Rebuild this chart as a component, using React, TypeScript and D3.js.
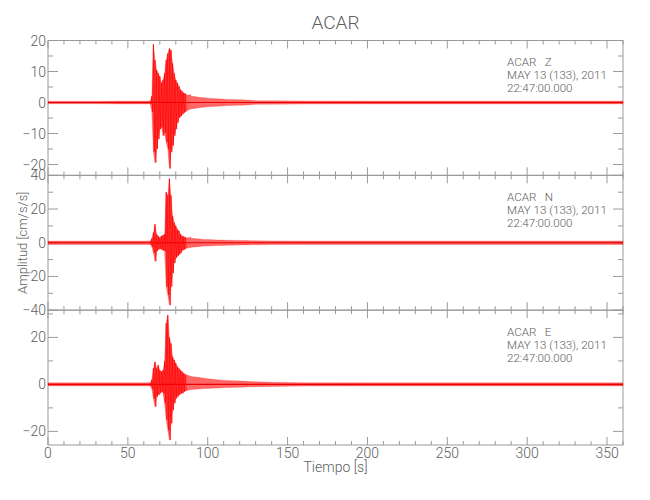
import React from 'react';
import * as d3 from 'd3';

// ---------- data ----------
const chartTitle = 'ACAR';
const station = 'ACAR';
const dateLabel = 'MAY 13 (133), 2011';
const timeLabel = '22:47:00.000';
const componentNames = ['Z', 'N', 'E'];
const xLabel = 'Tiempo [s]';
const yLabel = 'Amplitud [cm/s/s]';

const xDomain = [0, 360];
const xMajorTicks = [0, 50, 100, 150, 200, 250, 300, 350];
const xMinorStep = 10;

// sample times (s) of the min/max envelope
const times = [0, 15, 30, 45, 60, 64, 65, 66, 67, 68, 69, 70, 71, 72, 73, 74, 75, 76, 77, 78, 79, 80, 81, 82, 83, 84, 85, 86, 87, 88, 89, 90, 92, 94, 96, 98, 100, 103, 106, 109, 112, 115, 118, 121, 124, 127, 130, 140, 160, 200, 250, 300, 360];

const zMax = [0.4, 0.4, 0.4, 0.45, 0.45, 0.5, 2, 18.8, 13.7, 10.5, 9.4, 8.4, 6.3, 7.3, 9.4, 13.7, 15.8, 17.4, 16.9, 12.6, 9.4, 7.3, 6.3, 5.2, 4.1, 3.6, 3.1, 2.8, 2.5, 2.3, 2.6, 2.0, 1.9, 1.7, 1.6, 1.5, 1.4, 1.3, 1.2, 1.1, 1.0, 1.0, 0.9, 0.9, 0.8, 0.7, 0.6, 0.55, 0.5, 0.45, 0.45, 0.45, 0.45];
const zMin = [-0.4, -0.4, -0.4, -0.45, -0.45, -0.5, -3, -16, -19.4, -15, -11.8, -8.6, -8, -10.7, -9.7, -12.8, -15, -21.3, -16, -13.9, -10.7, -8.6, -6.5, -4.9, -4.4, -3.8, -3.3, -3.0, -2.6, -2.4, -2.2, -2.0, -1.9, -1.7, -1.6, -1.5, -1.4, -1.3, -1.2, -1.1, -1.0, -1.0, -0.9, -0.9, -0.8, -0.7, -0.6, -0.55, -0.5, -0.45, -0.45, -0.45, -0.45];

const nMax = [1.0, 1.0, 1.0, 1.0, 1.0, 1.1, 2.5, 6, 11, 5, 4, 3, 4, 4.5, 5, 30, 28, 38, 28, 16, 12, 10, 8, 7, 5, 4, 3.6, 3.2, 3, 3, 3.4, 2.6, 2.5, 2.3, 2.1, 2.0, 1.9, 1.8, 1.7, 1.6, 1.5, 1.5, 1.4, 1.3, 1.3, 1.2, 1.2, 1.1, 1.0, 1.0, 1.0, 1.0, 1.0];
const nMin = [-1.0, -1.0, -1.0, -1.0, -1.0, -1.1, -2.5, -6, -11, -5, -4, -3.5, -4, -4.5, -5, -26, -31, -37, -26, -18, -12, -9, -8, -7, -6, -4.5, -4, -3.5, -3.2, -3, -3, -2.6, -2.5, -2.3, -2.1, -2.0, -1.9, -1.8, -1.7, -1.6, -1.5, -1.5, -1.4, -1.3, -1.3, -1.2, -1.2, -1.1, -1.0, -1.0, -1.0, -1.0, -1.0];

const eMax = [0.65, 0.65, 0.65, 0.65, 0.65, 0.7, 2, 6.8, 9.6, 6.8, 8.2, 6, 5.4, 6, 10, 26, 29.5, 20, 17.4, 11.8, 10.4, 9, 7.5, 6.8, 6, 5.4, 4.7, 4.2, 4, 3.8, 3.6, 3.4, 3.2, 3.0, 2.8, 2.6, 2.4, 2.2, 2.0, 1.8, 1.7, 1.6, 1.5, 1.4, 1.3, 1.2, 1.1, 0.9, 0.7, 0.65, 0.65, 0.65, 0.65];
const eMin = [-0.65, -0.65, -0.65, -0.65, -0.65, -0.7, -2, -6, -9.5, -5.2, -4.5, -3.8, -3.1, -3.8, -8, -15, -19.4, -23.7, -16.6, -11, -8, -6, -5.2, -4.5, -3.8, -3.8, -3.1, -2.8, -2.6, -2.4, -2.3, -2.2, -2.1, -2.0, -1.9, -1.8, -1.7, -1.6, -1.5, -1.4, -1.3, -1.3, -1.2, -1.2, -1.1, -1.0, -1.0, -0.85, -0.7, -0.65, -0.65, -0.65, -0.65];

const zDomain = [-23.5, 20];
const nDomain = [-40, 40];
const eDomain = [-25.8, 31.6];
const zTicks = [20, 10, 0, -10, -20];
const nTicks = [40, 20, 0, -20, -40];
const eTicks = [20, 0, -20];
const zMinorStep = 5;
const nMinorStep = 10;
const eMinorStep = 10;

// ---------- layout ----------
const W = 650;
const H = 500;
const left = 48;
const right = 623;
const plotTop = 40.5;
const plotBottom = 445;
const axisColor = '#9a9a9a';
const textColor = '#5e5e5e';
const font = 'Roboto, "DejaVu Sans Condensed", sans-serif';
const fontWeight = 300;
const traceColor = '#ff0000';

const panels = [
  { name: componentNames[0], max: zMax, min: zMin, domain: zDomain, ticks: zTicks, minor: zMinorStep },
  { name: componentNames[1], max: nMax, min: nMin, domain: nDomain, ticks: nTicks, minor: nMinorStep },
  { name: componentNames[2], max: eMax, min: eMin, domain: eDomain, ticks: eTicks, minor: eMinorStep },
];

const fmt = (v: number) => (v < 0 ? '\u2212' + Math.abs(v) : String(v));

export default function App() {
  const x = d3.scaleLinear().domain(xDomain).range([left, right]);
  const ph = (plotBottom - plotTop) / panels.length;
  const xMinor = d3.range(xDomain[0], xDomain[1] + 0.001, xMinorStep).filter((t) => !xMajorTicks.includes(t));

  const txt = { fontFamily: font, fontWeight: fontWeight, fill: textColor } as const;

  return (
    <svg width={W} height={H} style={{ position: 'absolute', left: 0, top: 0, background: '#fff' }}>
      <rect x={0} y={0} width={W} height={H} fill="#ffffff" />
      <text x={(left + right) / 2} y={29} textAnchor="middle" fontSize={19} {...txt}>
        {chartTitle}
      </text>
      {panels.map((p, pi) => {
        const top = plotTop + pi * ph;
        const bottom = top + ph;
        const y = d3.scaleLinear().domain(p.domain).range([bottom, top]);
        const idx = d3.range(times.length);
        const area = d3
          .area<number>()
          .x((i) => x(times[i]))
          .y0((i) => y(p.min[i]))
          .y1((i) => y(p.max[i]));
        const burst = idx.filter((i) => times[i] >= 64 && times[i] <= 86);
        const zig: [number, number][] = [];
        burst.forEach((i) => {
          zig.push([x(times[i]), y(p.max[i])]);
          zig.push([x(times[i] + 0.5), y(p.min[i])]);
        });
        const zigPath = d3.line()(zig) || '';
        const yMinor = d3
          .range(Math.ceil(p.domain[0] / p.minor) * p.minor, p.domain[1] + 0.001, p.minor)
          .filter((v) => !p.ticks.includes(v));
        return (
          <g key={p.name}>
            {/* frame */}
            <rect x={left} y={top} width={right - left} height={ph} fill="none" stroke={axisColor} strokeWidth={1} />
            {/* x ticks top & bottom */}
            {xMajorTicks.map((t) => (
              <g key={'xM' + t}>
                <line x1={x(t)} x2={x(t)} y1={top} y2={top + 8} stroke={axisColor} />
                <line x1={x(t)} x2={x(t)} y1={bottom} y2={bottom - 8} stroke={axisColor} />
              </g>
            ))}
            {xMinor.map((t) => (
              <g key={'xm' + t}>
                <line x1={x(t)} x2={x(t)} y1={top} y2={top + 4} stroke={axisColor} />
                <line x1={x(t)} x2={x(t)} y1={bottom} y2={bottom - 4} stroke={axisColor} />
              </g>
            ))}
            {/* y ticks left & right */}
            {p.ticks.map((v) => (
              <g key={'yM' + v}>
                <line x1={left} x2={left + 10} y1={y(v)} y2={y(v)} stroke={axisColor} />
                <line x1={right} x2={right - 10} y1={y(v)} y2={y(v)} stroke={axisColor} />
                <text x={46} y={y(v)} dy="0.36em" textAnchor="end" fontSize={14} {...txt}>
                  {fmt(v)}
                </text>
              </g>
            ))}
            {yMinor.map((v) => (
              <g key={'ym' + v}>
                <line x1={left} x2={left + 5} y1={y(v)} y2={y(v)} stroke={axisColor} />
                <line x1={right} x2={right - 5} y1={y(v)} y2={y(v)} stroke={axisColor} />
              </g>
            ))}
            {/* trace */}
            <path d={area(idx) || ''} fill={traceColor} fillOpacity={0.6} stroke={traceColor} strokeOpacity={0.35} strokeWidth={0.6} />
            <line x1={x(xDomain[0])} x2={x(xDomain[1])} y1={y(0)} y2={y(0)} stroke="#e80000" strokeWidth={1.2} />
            <path d={zigPath} fill="none" stroke={traceColor} strokeWidth={0.7} />
            {/* annotation */}
            <text x={507} y={top + 25.5} fontSize={11.6} {...txt} style={{ whiteSpace: 'pre' }}>
              {station + '   ' + p.name}
            </text>
            <text x={507} y={top + 38.5} fontSize={11.6} {...txt}>
              {dateLabel}
            </text>
            <text x={507} y={top + 51.5} fontSize={11.6} {...txt}>
              {timeLabel}
            </text>
          </g>
        );
      })}
      {xMajorTicks.map((t) => (
        <text key={'xl' + t} x={x(t)} y={458} textAnchor="middle" fontSize={14} {...txt}>
          {String(t)}
        </text>
      ))}
      <text x={(left + right) / 2} y={472} textAnchor="middle" fontSize={14} {...txt}>
        {xLabel}
      </text>
      <text
        transform={`translate(27, ${(plotTop + plotBottom) / 2}) rotate(-90)`}
        textAnchor="middle"
        fontSize={13}
        {...txt}
      >
        {yLabel}
      </text>
    </svg>
  );
}
